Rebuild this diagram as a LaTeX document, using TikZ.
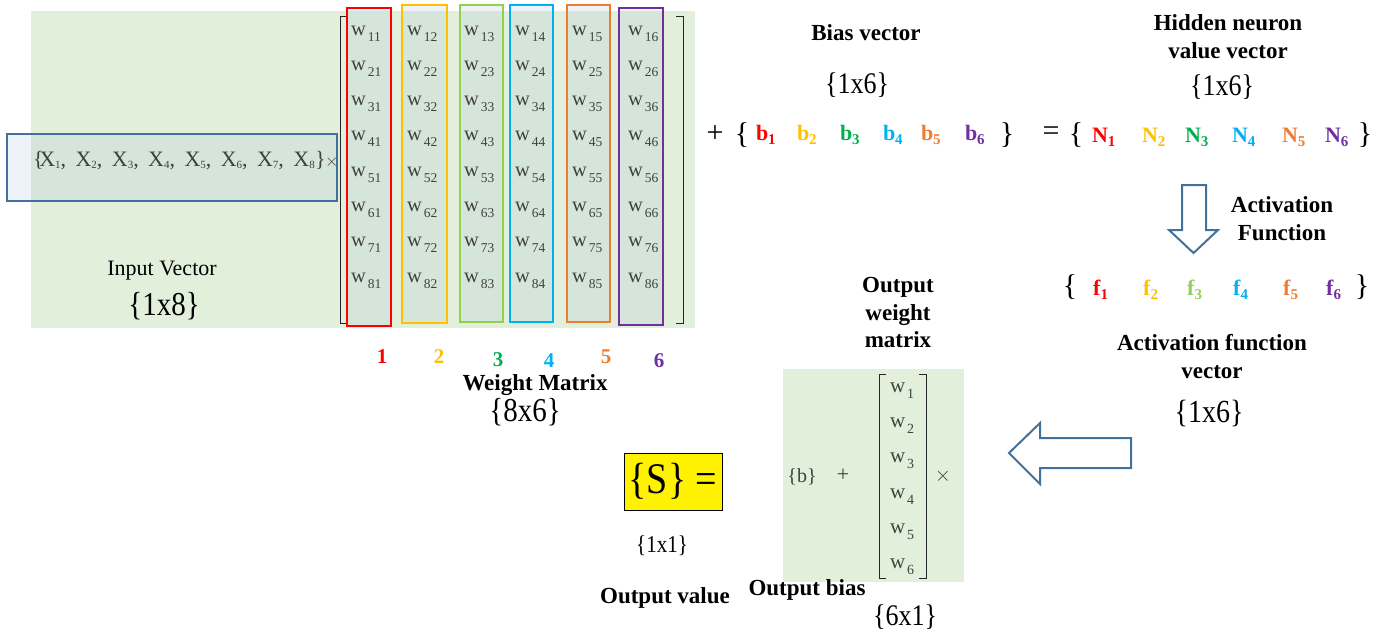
\documentclass[tikz,border=0pt]{standalone}
\usepackage{fontspec}
\usepackage{graphicx}
\setmainfont{Liberation Serif}
\definecolor{cred}{HTML}{FF0000}
\definecolor{cyel}{HTML}{FFC000}
\definecolor{cgrn}{HTML}{00B050}
\definecolor{clgr}{HTML}{92D050}
\definecolor{cblu}{HTML}{00B0F0}
\definecolor{corg}{HTML}{ED7D31}
\definecolor{cpur}{HTML}{7030A0}
\definecolor{bggreen}{HTML}{E2EFDA}
\definecolor{steel}{HTML}{41719C}
\definecolor{txtgray}{HTML}{404040}
\definecolor{tint}{RGB}{155,185,220}
\definecolor{brk}{HTML}{262626}
\newcommand\fsz[1]{\fontsize{#1}{#1}\selectfont}
\newcommand\tallt[1]{\scalebox{1}[1.15]{#1}}
\newcommand\wentry[1]{{\fsz{20.5}w}\hspace{2pt}\raisebox{-6pt}{\fsz{13.5}#1}}
\newcommand\bsub[2]{\textbf{#1}\raisebox{-4pt}{\fsz{15}\bfseries #2}}
\begin{document}
\begin{tikzpicture}[x=1pt,y=-1pt,
  every node/.style={inner sep=0pt, outer sep=0pt},
  boldlabel/.style={font=\fsz{23}\bfseries, align=center},
  dimtxt/.style={font=\fsz{26}},
  colbox/.style={line width=2.5pt, fill=tint, fill opacity=0.17},
  blockarrow/.style={draw=steel, line width=2pt, fill=white, line join=miter},
  bracket/.style={draw=brk, line width=1pt},
  vecsym/.style={font=\fsz{22}\bfseries, anchor=base west},
  bigbrace/.style={font=\fsz{30}},
  wtxt/.style={anchor=base west, text=txtgray}
]
\useasboundingbox (0,0) rectangle (1386,632);
% backgrounds
\fill[bggreen] (31,11) rectangle (695,328);
\fill[bggreen] (783,369) rectangle (964,582);
% input vector box
\draw[draw=steel, line width=2pt, fill=tint, fill opacity=0.17] (7,134) rectangle (337,201);
\node[wtxt, font=\fsz{22}] (xob) at (33,166) {\{};
\foreach \i in {1,...,8}{
  \node[wtxt, font=\fsz{22}] (x\i) at ({39.3+36.3*(\i-1)},166) {X\raisebox{-2pt}{\fsz{11}\i}\ifnum\i<8,\fi};
}
\node[wtxt, font=\fsz{22}] (xcb) at (315,166) {\}};
\node[wtxt, font=\fsz{18}] (xtimes) at (325,166) {$\times$};
\node[anchor=base, font=\fsz{22}] (inlab) at (162,275) {Input Vector};
\node[anchor=base, font=\fsz{29}] (indim) at (164,315) {\tallt{\{1x8\}}};
% weight matrix columns
\draw[colbox, draw=cred] (347,8) rectangle (391,326);
\draw[colbox, draw=cyel] (402,5) rectangle (447,323);
\draw[colbox, draw=clgr] (460,5) rectangle (503,322);
\draw[colbox, draw=cblu] (510,5) rectangle (553,322);
\draw[colbox, draw=corg] (567,5) rectangle (610,322);
\draw[colbox, draw=cpur] (619,8) rectangle (663,325);
\draw[bracket] (346,16) -- (340,16) -- (340,323) -- (346,323);
\draw[bracket] (676,16) -- (683,16) -- (683,323) -- (676,323);
\foreach \c/\x in {1/351,2/407,3/464,4/515,5/572,6/628}{
  \foreach \r in {1,...,8}{
    \node[wtxt] (w\r\c) at (\x,{35+35.3*(\r-1)}) {\wentry{\r\c}};
  }
}
\foreach \n/\x/\y/\col in {1/382/363/cred,2/439/363/cyel,3/498/366/cgrn,4/549/367/cblu,5/606/363/corg,6/659/367/cpur}{
  \node[anchor=base, font=\fsz{21}\bfseries, text=\col] (num\n) at (\x,\y) {\n};
}
\node[anchor=base, boldlabel] (wmlab) at (535,390) {Weight Matrix};
\node[anchor=base, font=\fsz{29}] (wmdim) at (525,421) {\tallt{\{8x6\}}};
% bias vector
\node[anchor=base, boldlabel] (blab) at (866,40) {Bias vector};
\node[anchor=base, dimtxt] (bdim) at (857,93) {\tallt{\{1x6\}}};
\node[font=\fsz{30}] (plus) at (715,134) {+};
\node[bigbrace] (bob) at (742,135) {\{};
\foreach \i/\x/\col in {1/756/cred,2/797/cyel,3/840/cgrn,4/883/cblu,5/921/corg,6/965/cpur}{
  \node[vecsym, text=\col] (b\i) at (\x,140) {\bsub{b}{\i}};
}
\node[bigbrace] (bcb) at (1007,135) {\}};
% hidden neuron vector
\node[font=\fsz{30}] (eq) at (1051,134) {=};
\node[bigbrace] (nob) at (1076,135) {\{};
\foreach \i/\x/\col in {1/1092/cred,2/1142/cyel,3/1185/cgrn,4/1232/cblu,5/1282/corg,6/1325/cpur}{
  \node[vecsym, text=\col] (n\i) at (\x,142) {\bsub{N}{\i}};
}
\node[bigbrace] (ncb) at (1365,135) {\}};
\node[anchor=base, boldlabel] (nlab1) at (1228,30) {Hidden neuron};
\node[anchor=base, boldlabel] (nlab2) at (1228,58) {value vector};
\node[anchor=base, dimtxt] (ndim) at (1222,95) {\tallt{\{1x6\}}};
% activation
\draw[blockarrow] (1182,185) -- (1206,185) -- (1206,230) -- (1218,230) -- (1193.5,253) -- (1169,230) -- (1182,230) -- cycle;
\node[anchor=base, boldlabel] (alab1) at (1282,212) {Activation};
\node[anchor=base, boldlabel] (alab2) at (1282,240) {Function};
\node[bigbrace] (fob) at (1070,287) {\{};
\foreach \i/\x/\col in {1/1093/cred,2/1143/cyel,3/1187/clgr,4/1233/cblu,5/1283/corg,6/1326/cpur}{
  \node[vecsym, text=\col] (f\i) at (\x,295) {\bsub{f}{\i}};
}
\node[bigbrace] (fcb) at (1362,287) {\}};
\node[anchor=base, boldlabel] (aflab1) at (1212,350) {Activation function};
\node[anchor=base, boldlabel] (aflab2) at (1212,378) {vector};
\node[anchor=base, font=\fsz{28}] (afdim) at (1209,422) {\tallt{\{1x6\}}};
\draw[blockarrow] (1131,438) -- (1040,438) -- (1040,423) -- (1009,453) -- (1040,484) -- (1040,468) -- (1131,468) -- cycle;
% output
\node[anchor=base, boldlabel] (owlab1) at (898,292) {Output};
\node[anchor=base, boldlabel] (owlab2) at (898,320) {weight};
\node[anchor=base, boldlabel] (owlab3) at (898,347) {matrix};
\node[draw=black, line width=1pt, fill=yellow, minimum width=98pt, minimum height=57pt, font=\fsz{38}] (S) at (673,481.5) {\tallt{\{S\} =}};
\node[anchor=base, font=\fsz{21}] (sdim) at (662,552) {\tallt{\{1x1\}}};
\node[anchor=base, boldlabel] (svlab) at (665,603) {Output value};
\node[anchor=base, font=\fsz{20}, text=txtgray] (ob) at (802,482) {\{b\}};
\node[font=\fsz{22}, text=txtgray] (oplus) at (843,475) {+};
\foreach \i/\y in {1/392,2/427,3/462,4/498,5/533,6/568}{
  \node[wtxt] (ow\i) at (890,\y) {{\fsz{21}w}\hspace{2pt}\raisebox{-6pt}{\fsz{14}\i}};
}
\draw[bracket] (886,374) -- (879,374) -- (879,578) -- (886,578);
\draw[bracket] (919,374) -- (926,374) -- (926,578) -- (919,578);
\node[font=\fsz{20}, text=txtgray] (otimes) at (943,476) {$\times$};
\node[anchor=base, boldlabel] (oblab) at (807,595) {Output bias};
\node[anchor=base, dimtxt] (odim) at (905,625) {\tallt{\{6x1\}}};
\end{tikzpicture}
\end{document}
